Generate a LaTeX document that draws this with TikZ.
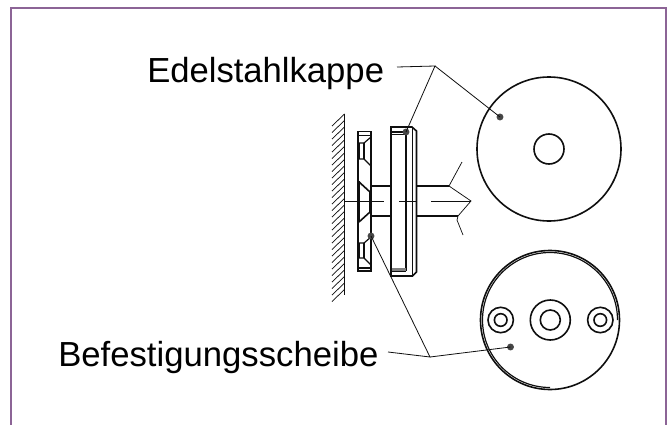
\documentclass[tikz,border=0pt]{standalone}
\usepackage{fontspec}
\setmainfont{Liberation Sans}
\definecolor{framec}{RGB}{140,100,150}
\definecolor{inkc}{RGB}{15,15,15}
\definecolor{dotc}{RGB}{70,70,70}
\tikzset{
  frameline/.style={draw=framec,line width=1pt},
  heavy/.style={draw=inkc,line width=1.2pt},
  medium/.style={draw=inkc,line width=0.9pt},
  thin line/.style={draw=inkc,line width=0.55pt},
  leader/.style={draw=inkc,line width=0.6pt},
  leaderdot/.style={circle,fill=dotc,minimum size=5.2pt,inner sep=0pt},
  label text/.style={inner sep=0pt,font=\fontsize{26.1pt}{30pt}\selectfont,text=black}
}
\begin{document}
\begin{tikzpicture}[x=0.75pt,y=-0.75pt]
\useasboundingbox (0,0) rectangle (672,425);
% frame, open at the bottom
\draw[frameline] (11,425) -- (11,8) -- (666,8) -- (666,425);
% wall
\draw[heavy] (344.5,114) -- (344.5,295);
\foreach \y in {114,120.5,...,295} \draw[thin line] (344.5,\y) -- (332,\y+12);
% washer
\draw[heavy] (358,131.5) rectangle (371,271);
\draw[thin line] (358,135) -- (371,135);
\draw[medium] (358,268) -- (371,268);
\draw[medium] (371,137) -- (364,143) -- (358,143);
\draw[medium] (364,143) -- (364,159);
\draw[thin line] (359.5,143) -- (359.5,159);
\draw[medium] (358,159) -- (364,159) -- (371,166);
\draw[heavy] (358,181) -- (370,192) -- (370,212) -- (359,222);
\draw[heavy] (359.5,181) -- (359.5,222);
\draw[medium] (371,237) -- (364,243) -- (358,243);
\draw[medium] (364,243) -- (364,258);
\draw[thin line] (359.5,243) -- (359.5,258);
\draw[medium] (358,258) -- (364,258) -- (371,265);
% cap
\draw[heavy] (391,276) -- (391,127) -- (412,127) -- (416.5,131) -- (416.5,272) -- (412.5,276) -- cycle;
\draw[heavy] (406,132) -- (406,271);
\draw[thin line] (412,127) -- (412,276);
\draw[heavy] (391,132) -- (406,132);
\draw[thin line] (391,134.5) -- (406,134.5);
\draw[heavy] (391,271) -- (406,271);
\fill[gray] (391.5,268) rectangle (405.5,270.5);
% shaft
\draw[medium] (371,186) -- (391,186);
\draw[medium] (371,216) -- (391,216);
\draw[medium] (416.5,186) -- (449,186);
\draw[medium] (416.5,216) -- (458,216);
\draw[thin line] (462,162) -- (449,186) -- (471,201) -- (458,216) -- (457,220) -- (463,235);
% centre line
\draw[thin line] (344.5,201) -- (384,201);
\draw[thin line] (399,201) -- (416,201);
\draw[thin line] (431,201) -- (471,201);
% front view, cap
\draw[heavy] (549,149) circle (72);
\draw[heavy] (549,149) circle (15);
% front view, washer
\draw[heavy] (550,320) circle (69.5);
\draw[medium] (617.5,320) arc[start angle=0,end angle=-270,x radius=67.5,y radius=67.5];
\draw[heavy] (550.3,320) circle (20);
\draw[heavy] (550.3,320) circle (10);
\draw[heavy] (500.7,320) circle (12.7);
\draw[heavy] (500.7,320) circle (6.3);
\draw[heavy] (600.3,320) circle (12.7);
\draw[heavy] (600.3,320) circle (6.3);
% labels
\node[label text,anchor=base west,xscale=0.995] (kappe) at (147,82.5) {Edelstahlkappe};
\node[label text,anchor=base west,xscale=0.997] (scheibe) at (58,366) {Befestigungsscheibe};
% leaders
\node[leaderdot] (d1) at (406,132) {};
\node[leaderdot] (d2) at (500,117) {};
\node[leaderdot] (d3) at (371,236) {};
\node[leaderdot] (d4) at (510.5,347) {};
\coordinate (j1) at (435,66);
\coordinate (j2) at (430,357);
\draw[leader] (397,67) -- (j1) -- (d1.center);
\draw[leader] (j1) -- (d2.center);
\draw[leader] (388,352) -- (j2) -- (d3.center);
\draw[leader] (j2) -- (d4.center);
\end{tikzpicture}
\end{document}
